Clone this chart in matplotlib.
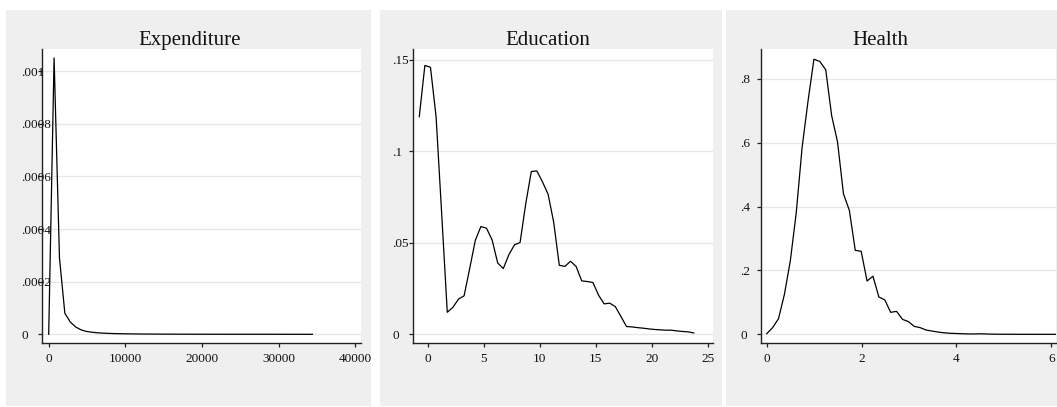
import numpy as np
import matplotlib.pyplot as plt
from matplotlib.patches import Rectangle

# kernel density values (50 grid points per panel)
exp_grid = np.linspace(0, 34400, 50)
exp_dens = [0.0, 1.05e-3, 2.9e-4, 8.0e-5, 4.7e-5, 2.8e-5, 1.7e-5, 1.1e-5, 8.0e-6, 6.0e-6,
            4.6e-6, 3.6e-6, 2.9e-6, 2.4e-6, 2.0e-6, 1.7e-6, 1.4e-6, 1.2e-6, 1.0e-6, 9.0e-7,
            8.0e-7, 7.0e-7, 6.0e-7, 5.5e-7, 5.0e-7, 4.5e-7, 4.0e-7, 3.6e-7, 3.3e-7, 3.0e-7,
            2.8e-7, 2.6e-7, 2.4e-7, 2.2e-7, 2.0e-7, 1.9e-7, 1.8e-7, 1.7e-7, 1.6e-7, 1.5e-7,
            1.4e-7, 1.3e-7, 1.2e-7, 1.1e-7, 1.0e-7, 1.0e-7, 9.0e-8, 9.0e-8, 8.0e-8, 8.0e-8]

edu_grid = np.linspace(-0.75, 23.75, 50)
edu_dens = [0.119, 0.147, 0.146, 0.119, 0.066, 0.012, 0.0147, 0.0192, 0.021, 0.0359,
            0.0513, 0.0589, 0.058, 0.0516, 0.039, 0.0359, 0.0435, 0.0489, 0.0502, 0.0712,
            0.089, 0.0893, 0.0833, 0.0766, 0.0612, 0.0377, 0.0371, 0.0399, 0.0371, 0.0292,
            0.0288, 0.0283, 0.0214, 0.0166, 0.017, 0.0151, 0.0097, 0.0042, 0.004, 0.0036,
            0.0033, 0.0029, 0.0026, 0.0024, 0.0022, 0.0022, 0.0018, 0.0015, 0.0013, 0.0007]

hea_grid = np.linspace(0, 6.1, 50)
hea_dens = [0.002, 0.021, 0.049, 0.125, 0.23, 0.38, 0.585, 0.73, 0.861, 0.854,
            0.828, 0.685, 0.602, 0.44, 0.388, 0.263, 0.26, 0.167, 0.182, 0.117,
            0.108, 0.069, 0.072, 0.047, 0.040, 0.025, 0.021, 0.0135, 0.0104, 0.0073,
            0.005, 0.0035, 0.0028, 0.002, 0.0015, 0.0012, 0.0018, 0.0014, 0.0008, 0.0005,
            0.0004, 0.0003, 0.0003, 0.0002, 0.0002, 0.0002, 0.0001, 0.0001, 0.0001, 0.0001]

titles = ['Expenditure', 'Education', 'Health']
exp_xticks = [0, 10000, 20000, 30000, 40000]
exp_yticks = [0, 0.0002, 0.0004, 0.0006, 0.0008, 0.001]
exp_ylabels = ['0', '.0002', '.0004', '.0006', '.0008', '.001']
edu_xticks = [0, 5, 10, 15, 20, 25]
edu_yticks = [0, 0.05, 0.1, 0.15]
edu_ylabels = ['0', '.05', '.1', '.15']
hea_xticks = [0, 2, 4, 6]
hea_yticks = [0, 0.2, 0.4, 0.6, 0.8]
hea_ylabels = ['0', '.2', '.4', '.6', '.8']

plt.rcParams['font.family'] = ['Liberation Serif', 'DejaVu Serif']

W, H = 1057, 407
fig = plt.figure(figsize=(W / 100, H / 100), dpi=100)
fig.patch.set_facecolor('white')

# layout in pixels: (gray panel x0, x1), (axes x0, x1), title center
panels = [
    ((6, 371), (42, 361), 190, exp_grid, exp_dens, exp_xticks, exp_yticks, exp_ylabels,
     (-874, 40730), (-0.000033, 0.001084)),
    ((380, 722), (413, 713), 548, edu_grid, edu_dens, edu_xticks, edu_yticks, edu_ylabels,
     (-1.31, 25.47), (-0.0048, 0.156)),
    ((726, 1057), (761, 1056), 880, hea_grid, hea_dens, hea_xticks, hea_yticks, hea_ylabels,
     (-0.12, 6.1), (-0.027, 0.893)),
]
ax_top, ax_bot = 49, 343

for i, (gx, axx, tcx, xs, ys, xt, yt, yl, xlim, ylim) in enumerate(panels):
    fig.patches.append(Rectangle((gx[0] / W, 1 - 406 / H), (gx[1] - gx[0]) / W, (406 - 10) / H,
                                 transform=fig.transFigure, facecolor='#EFEFEF',
                                 edgecolor='none', zorder=-10))
    ax = fig.add_axes([axx[0] / W, 1 - ax_bot / H, (axx[1] - axx[0]) / W, (ax_bot - ax_top) / H])
    ax.set_zorder(1)
    ax.set_facecolor('white')
    ax.plot(xs, ys, color='black', lw=0.9, zorder=3)
    ax.set_xlim(*xlim)
    ax.set_ylim(*ylim)
    ax.set_xticks(xt)
    ax.set_xticklabels([str(v) for v in xt])
    ax.set_yticks(yt)
    ax.set_yticklabels(yl)
    for s in ['top', 'right']:
        ax.spines[s].set_visible(False)
    for s in ['left', 'bottom']:
        ax.spines[s].set_linewidth(1.0)
        ax.spines[s].set_color('#222222')
    ax.grid(axis='y', color='#E6E6E6', lw=0.9, zorder=1)
    ax.tick_params(axis='both', direction='out', length=3, width=0.9, color='#222222',
                   labelsize=9.5, labelcolor='#111111')
    ax.tick_params(axis='x', pad=4)
    ax.tick_params(axis='y', pad=12)
    for lab in ax.get_yticklabels():
        lab.set_ha('left')
    fig.text(tcx / W, 1 - 45 / H, titles[i], ha='center', va='baseline', fontsize=15,
             color='#111111', zorder=5)

fig.savefig('out.png', dpi=100, facecolor='white')
